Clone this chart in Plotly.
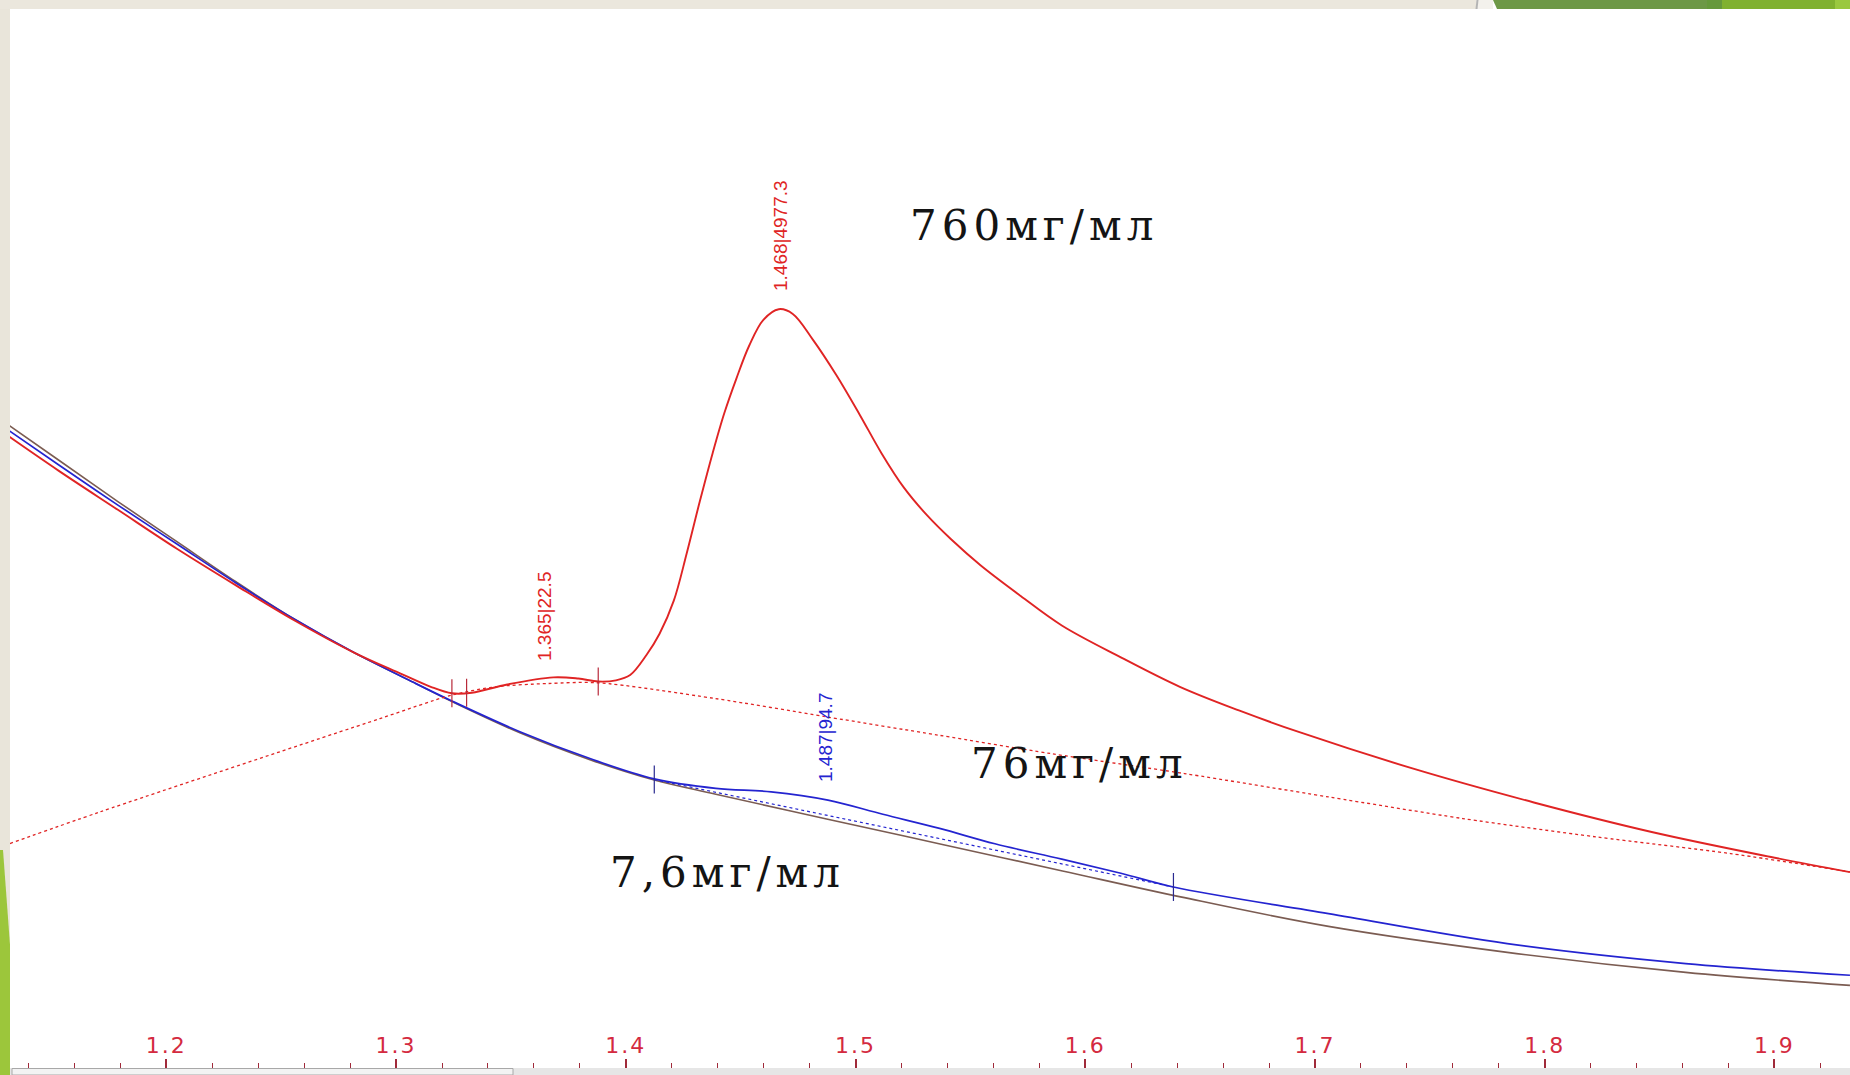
import plotly.graph_objects as go

# ---------------- data ----------------
# x: refractive-index-like axis; y: signal in arbitrary units (axis hidden)
red_x = [1.1312, 1.1532, 1.1789, 1.2046, 1.2303, 1.2560, 1.2817, 1.3022, 1.3151, 1.3243,
         1.3330, 1.3484, 1.3685, 1.3793, 1.3880, 1.3957, 1.4019, 1.4090, 1.4147, 1.4209,
         1.4265, 1.4322, 1.4378, 1.4429, 1.4481, 1.4537, 1.4599, 1.4666, 1.4727, 1.4815,
         1.4917, 1.5020, 1.5113, 1.5210, 1.5313, 1.5416, 1.5544, 1.5719, 1.5898, 1.6155,
         1.6412, 1.6669, 1.6926, 1.7439, 1.7953, 1.8466, 1.8980, 1.9329]
red_y = [535.5, 506, 473, 440, 409, 379, 352, 334, 323, 317.5,
         318, 325, 331, 330, 327.5, 328.5, 333, 350, 368, 396,
         436, 480, 521, 555, 584, 612, 634, 643, 639, 617,
         587, 553, 521, 492, 468, 448, 426, 400, 375, 348,
         323, 303, 285, 253, 225, 200, 179, 166]

red_base_x = [1.1319, 1.1711, 1.2930, 1.3241, 1.3433, 1.3660, 1.3879, 1.4389, 1.4876,
              1.5362, 1.5848, 1.6432, 1.7059, 1.7643, 1.8225, 1.8809, 1.9329]
red_base_y = [190.2, 217, 296.1, 315.9, 323, 325.8, 326.4, 313.1, 297.5,
              282, 266.5, 249.5, 229.7, 211.4, 195.8, 181.7, 166.2]

blue_x = [1.1312, 1.1532, 1.1789, 1.2046, 1.2303, 1.2560, 1.2817, 1.3073, 1.3243, 1.3539,
          1.3847, 1.4124, 1.4392, 1.4633, 1.4880, 1.5119, 1.5366, 1.5607, 1.5898, 1.6155,
          1.6384, 1.7059, 1.7837, 1.8614, 1.9329]
blue_y = [540.5, 511, 477, 444, 411, 380, 352, 327, 311, 285,
          262, 245, 237, 234, 227, 215, 203, 190, 177, 165,
          153.4, 130.8, 105.4, 88.5, 78.6]

blue_base_x = [1.4124, 1.6384]
blue_base_y = [244.4, 153.4]

brown_x = [1.1312, 1.1532, 1.1789, 1.2046, 1.2303, 1.2560, 1.2817, 1.3073, 1.3243, 1.3539,
           1.3847, 1.4124, 1.4392, 1.4874, 1.5388, 1.5901, 1.6415, 1.7059, 1.7837, 1.8614,
           1.9329]
brown_y = [545, 515, 480, 446, 412, 380, 352, 327, 310.5, 284,
           261, 244, 232, 211, 189, 167, 145, 120, 98, 81,
           70]

red_mark_x = [1.3243, 1.3307, 1.3880]
red_mark_y = [317.5, 318, 327.5]
blue_mark_x = [1.4124, 1.6384]
blue_mark_y = [244.4, 153.4]

peak_labels = ["1.365|22.5", "1.468|4977.3", "1.487|94.7"]
conc_labels = ["760мг/мл", "76мг/мл", "7,6мг/мл"]

tick_vals = [1.2, 1.3, 1.4, 1.5, 1.6, 1.7, 1.8, 1.9]
tick_text = ["1.2", "1.3", "1.4", "1.5", "1.6", "1.7", "1.8", "1.9"]

# ---------------- figure ----------------
W, H = 1850, 1075
B = 7
PH = H - B  # plot height in px


def px(x):
    return x / W


def py(y):
    return (PH - y) / PH


RED = "#e02424"
BLUE = "#2424d0"
BROWN = "#7b5c52"

fig = go.Figure()
fig.add_trace(go.Scatter(x=brown_x, y=brown_y, mode="lines",
                         line=dict(color=BROWN, width=1.6, shape="spline", smoothing=1.0)))
fig.add_trace(go.Scatter(x=blue_x, y=blue_y, mode="lines",
                         line=dict(color=BLUE, width=1.7, shape="spline", smoothing=1.0)))
fig.add_trace(go.Scatter(x=blue_base_x, y=blue_base_y, mode="lines",
                         line=dict(color=BLUE, width=1.2, dash="dot")))
fig.add_trace(go.Scatter(x=red_base_x, y=red_base_y, mode="lines",
                         line=dict(color=RED, width=1.3, dash="dot", shape="spline", smoothing=0.8)))
fig.add_trace(go.Scatter(x=red_x, y=red_y, mode="lines",
                         line=dict(color=RED, width=1.9, shape="spline", smoothing=1.0)))
fig.add_trace(go.Scatter(x=red_mark_x, y=red_mark_y, mode="markers",
                         marker=dict(symbol="line-ns-open", size=20, color="#b82a3a",
                                     line=dict(color="#b82a3a", width=1.2))))
fig.add_trace(go.Scatter(x=blue_mark_x, y=blue_mark_y, mode="markers",
                         marker=dict(symbol="line-ns-open", size=20, color="#2a2a90",
                                     line=dict(color="#2a2a90", width=1.2))))

annotations = []
# rotated peak labels
rot_pos = [(544, 617, RED), (781, 236, RED), (825, 738, BLUE)]
for txt, (ax, ay, col) in zip(peak_labels, rot_pos):
    annotations.append(dict(text=txt, x=px(ax), y=py(ay), xref="paper", yref="paper",
                            showarrow=False, textangle=-90, xanchor="center", yanchor="middle",
                            font=dict(family="Liberation Sans, Arial, sans-serif", size=19, color=col)))
# concentration labels
conc_pos = [(1034, 226), (1079, 763), (727, 873)]
for txt, (ax, ay) in zip(conc_labels, conc_pos):
    annotations.append(dict(text='<span style="letter-spacing:5px">' + txt + '</span>',
                            x=px(ax), y=py(ay), xref="paper", yref="paper",
                            showarrow=False, xanchor="center", yanchor="middle",
                            font=dict(family="DejaVu Serif, Liberation Serif, serif", size=42,
                                      color="#141414")))

shapes = []
# bottom scrollbar strip
shapes.append(dict(type="rect", xref="paper", yref="paper", x0=px(10), x1=1, y0=py(1075), y1=py(1068),
                   fillcolor="#e6e6e6", line=dict(width=0), layer="above"))
shapes.append(dict(type="rect", xref="paper", yref="paper", x0=px(12), x1=px(513), y0=py(1075), y1=py(1068.5),
                   fillcolor="#f3f3f3", line=dict(color="#a8a8a8", width=1), layer="above"))
# left beige border
shapes.append(dict(type="rect", xref="paper", yref="paper", x0=0, x1=px(10), y0=py(1075), y1=1,
                   fillcolor="#e9e5da", line=dict(width=0), layer="above"))
# left green stripe (taper + full part)
shapes.append(dict(type="path", xref="paper", yref="paper",
                   path=f"M 0 {py(850)} L {px(3)} {py(850)} L {px(10)} {py(945)} L 0 {py(945)} Z",
                   fillcolor="#9cc63b", line=dict(width=0), layer="above"))
shapes.append(dict(type="rect", xref="paper", yref="paper", x0=0, x1=px(10), y0=py(1075), y1=py(944),
                   fillcolor="#9cc63b", line=dict(width=0), layer="above"))
# top beige border
shapes.append(dict(type="rect", xref="paper", yref="paper", x0=0, x1=px(1476), y0=py(9), y1=1,
                   fillcolor="#ebe7dd", line=dict(width=0), layer="above"))
shapes.append(dict(type="rect", xref="paper", yref="paper", x0=px(1476), x1=px(1493), y0=py(9), y1=1,
                   fillcolor="#f3f1ec", line=dict(width=0), layer="above"))
shapes.append(dict(type="line", xref="paper", yref="paper", x0=px(1476.5), x1=px(1477.5), y0=py(9), y1=1,
                   line=dict(color="#b4b4b4", width=2), layer="above"))
# top green bar
shapes.append(dict(type="path", xref="paper", yref="paper",
                   path=f"M {px(1493)} 1 L {px(1707)} 1 L {px(1707)} {py(9)} L {px(1497)} {py(9)} Z",
                   fillcolor="#6d9846", line=dict(width=0), layer="above"))
shapes.append(dict(type="rect", xref="paper", yref="paper", x0=px(1707), x1=px(1722), y0=py(9), y1=1,
                   fillcolor="#66993b", line=dict(width=0), layer="above"))
shapes.append(dict(type="rect", xref="paper", yref="paper", x0=px(1722), x1=px(1835), y0=py(9), y1=1,
                   fillcolor="#80b12f", line=dict(width=0), layer="above"))
shapes.append(dict(type="rect", xref="paper", yref="paper", x0=px(1835), x1=1, y0=py(9), y1=1,
                   fillcolor="#9ac83f", line=dict(width=0), layer="above"))

fig.update_layout(
    width=W, height=H,
    margin=dict(l=0, r=0, t=0, b=B, pad=0),
    paper_bgcolor="white", plot_bgcolor="white",
    showlegend=False,
    annotations=annotations,
    shapes=shapes,
    xaxis=dict(range=[1.12758, 1.93292], showgrid=False, zeroline=False, showline=False,
               tickmode="array", tickvals=tick_vals,
               ticktext=['<span style="letter-spacing:2px">' + t + '</span>' for t in tick_text],
               ticks="inside", ticklen=9, tickwidth=1.6, tickcolor="#a02a3a",
               ticklabelposition="inside", ticklabelstandoff=3,
               tickfont=dict(family="DejaVu Sans, Verdana, sans-serif", size=22, color="#d42a40"),
               minor=dict(ticks="inside", ticklen=5, tickwidth=1.4, tickcolor="#a02a3a",
                          dtick=0.02, tick0=1.2, showgrid=False)),
    yaxis=dict(range=[0, 905], visible=False, showgrid=False, zeroline=False),
)

fig.write_html("out.html", config={"displayModeBar": False},
               post_script="document.body.style.margin='0';document.body.style.overflow='hidden';")
